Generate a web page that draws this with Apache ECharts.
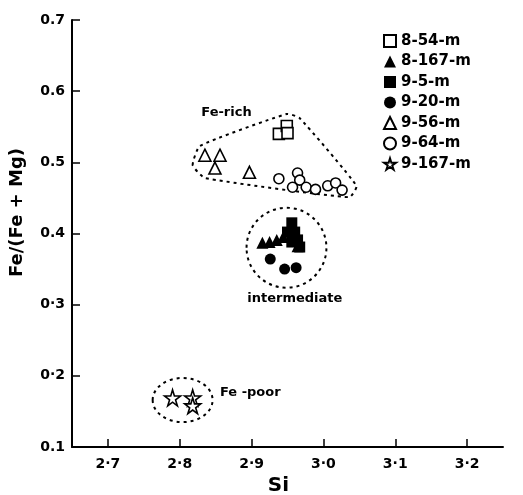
<!DOCTYPE html>
<html>
<head>
<meta charset="utf-8">
<script src="https://cdn.jsdelivr.net/npm/echarts@6/dist/echarts.min.js"></script>
<style>
  html, body { margin: 0; padding: 0; background: #fff; }
  #main { width: 523px; height: 495px; }
</style>
</head>
<body>
<div id="main"></div>
<script>
// tick values and labels
var xTicks = [2.7, 2.8, 2.9, 3.0, 3.1, 3.2];
var xTickLabels = ['2·7', '2·8', '2·9', '3·0', '3·1', '3·2'];
var yTickLabels = ['0.1', '0·2', '0·3', '0.4', '0.5', '0.6', '0.7'];

// samples [Si, Fe/(Fe+Mg)]
var s8_54 = [[2.938, 0.540], [2.949, 0.551], [2.950, 0.541]];
var s8_167 = [[2.915, 0.387], [2.925, 0.388], [2.935, 0.391], [2.944, 0.395], [2.964, 0.382]];
var s9_5 = [[2.956, 0.415], [2.950, 0.402], [2.960, 0.402], [2.964, 0.391], [2.956, 0.388], [2.967, 0.381]];
var s9_20 = [[2.926, 0.364], [2.946, 0.350], [2.962, 0.352]];
var s9_56 = [[2.835, 0.510], [2.856, 0.510], [2.849, 0.492], [2.897, 0.486]];
var s9_64 = [[2.938, 0.477], [2.964, 0.485], [2.967, 0.475], [2.957, 0.465], [2.976, 0.465],
             [2.989, 0.462], [3.006, 0.467], [3.017, 0.471], [3.026, 0.461]];
var s9_167 = [[2.790, 0.169], [2.818, 0.169], [2.818, 0.158]];

// group outlines (data units)
var richOutline = [[2.818, 0.496], [2.828, 0.523], [2.949, 0.568], [2.967, 0.562],
                   [3.046, 0.467], [3.036, 0.451], [2.835, 0.478]];
var ellipses = [[2.9486, 0.380, 0.0556, 0.0562], [2.804, 0.166, 0.0417, 0.031]];
var groupLabels = [[2.830, 0.570, 'Fe-rich'], [2.894, 0.309, 'intermediate'], [2.856, 0.176, 'Fe -poor']];

var FONT = "'DejaVu Sans', 'Liberation Sans', sans-serif";
var star = 'path://M50,0 L61,35 L98,35 L68,57 L79,91 L50,70 L21,91 L32,57 L2,35 L39,35 Z';
var openStyle = { color: '#fff', borderColor: '#000', borderWidth: 1.6, opacity: 1 };
var solidStyle = { color: '#000', opacity: 1 };

var myChart = echarts.init(document.getElementById('main'));

function pts(name, data, symbol, size, style) {
  return {
    name: name, type: 'scatter', data: data, symbol: symbol, symbolSize: size,
    itemStyle: style, emphasis: { disabled: true }, animation: false
  };
}

var option = {
  animation: false,
  textStyle: { fontFamily: FONT },
  grid: { left: 72, right: 20, top: 20, bottom: 48, outerBoundsMode: 'none', containLabel: false },
  legend: {
    orient: 'vertical', left: 378, top: 28, itemWidth: 12, itemHeight: 12, itemGap: 4.5,
    textStyle: { fontFamily: FONT, fontWeight: 'bold', fontSize: 15, lineHeight: 16, color: '#000' },
    data: ['8-54-m', '8-167-m', '9-5-m', '9-20-m', '9-56-m', '9-64-m', '9-167-m']
  },
  xAxis: {
    type: 'value', min: 2.65, max: 3.25,
    name: 'Si', nameLocation: 'middle', nameGap: 28,
    nameTextStyle: { fontFamily: FONT, fontWeight: 'bold', fontSize: 20, color: '#000', padding: [0, 18, 0, 0] },
    axisLine: { lineStyle: { color: '#000', width: 2 } },
    axisTick: { inside: true, length: 8, customValues: xTicks, lineStyle: { color: '#000', width: 1.5 } },
    axisLabel: {
      customValues: xTicks, margin: 10, color: '#000', fontWeight: 'bold', fontSize: 14, fontFamily: FONT,
      formatter: function (v) {
        for (var i = 0; i < xTicks.length; i++) if (Math.abs(xTicks[i] - v) < 1e-6) return xTickLabels[i];
        return '';
      }
    },
    splitLine: { show: false }
  },
  yAxis: {
    type: 'value', min: 0.1, max: 0.7, interval: 0.1,
    name: 'Fe/(Fe + Mg)', nameLocation: 'middle', nameGap: 46, nameRotate: 90,
    nameTextStyle: { fontFamily: FONT, fontWeight: 'bold', fontSize: 18, color: '#000', padding: [0, 0, 0, 42] },
    axisLine: { lineStyle: { color: '#000', width: 2 } },
    axisTick: { inside: true, length: 8, lineStyle: { color: '#000', width: 1.5 } },
    axisLabel: {
      margin: 7, color: '#000', fontWeight: 'bold', fontSize: 14, fontFamily: FONT,
      formatter: function (v) { return yTickLabels[Math.round((v - 0.1) * 10)]; }
    },
    splitLine: { show: false }
  },
  series: [
    {
      type: 'custom', silent: true, z: 1, data: [0],
      renderItem: function (params, api) {
        var children = [];
        var poly = richOutline.map(function (p) { return api.coord(p); });
        children.push({ type: 'polygon', shape: { points: poly, smooth: 0.15 },
          style: { fill: 'none', stroke: '#000', lineWidth: 2, lineDash: [3, 4] } });
        ellipses.forEach(function (e) {
          var c = api.coord([e[0], e[1]]);
          var s = api.size([e[2], e[3]]);
          children.push({ type: 'ellipse', shape: { cx: c[0], cy: c[1], rx: s[0], ry: s[1] },
            style: { fill: 'none', stroke: '#000', lineWidth: 2, lineDash: [3, 4] } });
        });
        groupLabels.forEach(function (t) {
          var c = api.coord([t[0], t[1]]);
          children.push({ type: 'text', x: c[0], y: c[1],
            style: { text: t[2], fill: '#000', font: 'bold 13px ' + FONT, align: 'left', verticalAlign: 'middle' } });
        });
        return { type: 'group', children: children };
      }
    },
    pts('8-54-m', s8_54, 'rect', 11, openStyle),
    pts('8-167-m', s8_167, 'triangle', 12, solidStyle),
    pts('9-5-m', s9_5, 'rect', 11, solidStyle),
    pts('9-20-m', s9_20, 'circle', 11, solidStyle),
    pts('9-56-m', s9_56, 'triangle', 12, openStyle),
    pts('9-64-m', s9_64, 'circle', 10, openStyle),
    pts('9-167-m', s9_167, star, 16, openStyle)
  ]
};
myChart.setOption(option);
</script>
</body>
</html>
